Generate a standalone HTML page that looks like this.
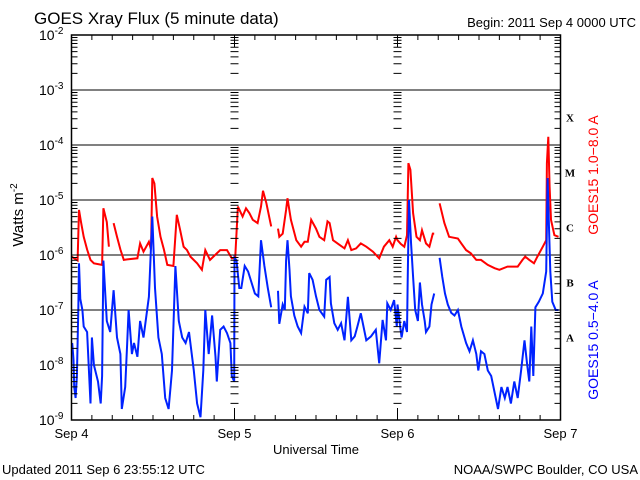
<!DOCTYPE html>
<html><head><meta charset="utf-8"><style>
html,body{margin:0;padding:0;background:#fff;}
svg{display:block;font-family:"Liberation Sans",sans-serif;}
</style></head><body>
<svg id="chart" width="640" height="480" viewBox="0 0 640 480" xmlns="http://www.w3.org/2000/svg">
<rect width="640" height="480" fill="#fff"/>
<text x="34" y="24" font-size="17" fill="#000">GOES Xray Flux (5 minute data)</text>
<text x="636" y="27" font-size="13" fill="#000" text-anchor="end">Begin:  2011 Sep 4 0000 UTC</text>
<text transform="translate(23,215) rotate(-90)" font-size="15" text-anchor="middle">Watts m<tspan font-size="10" dy="-6">-2</tspan></text>
<text x="316" y="454" font-size="13" text-anchor="middle">Universal Time</text>
<text x="2" y="474" font-size="13">Updated 2011 Sep  6 23:55:12 UTC</text>
<text x="638" y="474" font-size="13" text-anchor="end">NOAA/SWPC Boulder, CO USA</text>
<text transform="translate(598,175) rotate(-90)" font-size="14" fill="#ff0000" text-anchor="middle">GOES15 1.0−8.0 A</text>
<text transform="translate(598,340) rotate(-90)" font-size="14" fill="#0000ff" text-anchor="middle">GOES15 0.5−4.0 A</text>
<g id="grid"></g><g id="series"></g><g id="axes"></g>
</svg>
<script>
const yDecades=[-2,-3,-4,-5,-6,-7,-8,-9];
const dayLabels=["Sep 4","Sep 5","Sep 6","Sep 7"];
const classLabels=["X","M","C","B","A"];
const classLevels=[-3.5,-4.5,-5.5,-6.5,-7.5];
const redTimes=[0,0.9,1.1,1.4,1.8,2.3,2.8,3.3,4.5,4.7,5.2,5.5,null,6.2,6.7,7.2,7.7,8.2,9.7,10.1,10.6,11.4,11.7,11.9,12.2,12.6,13.1,13.6,14.1,15.0,15.5,16.0,16.5,17.0,17.5,18.5,19.2,19.7,20.4,20.9,21.9,22.9,23.6,24.1,24.5,25.2,25.7,26.2,26.7,27.4,27.9,28.2,28.7,29.2,29.4,null,30.4,30.6,31.1,31.6,31.8,32.3,33.1,33.8,34.3,34.8,35.3,36.0,36.5,37.2,37.7,38.0,38.5,39.5,40.2,40.7,41.2,41.9,42.6,43.4,44.4,45.3,46.0,46.8,47.3,47.8,48.0,48.5,49.0,49.4,49.6,49.9,50.3,50.8,51.3,51.6,52.2,52.7,53.2,53.4,null,54.2,54.9,55.6,56.9,57.4,58.1,58.8,59.6,60.3,61.3,62.3,63.0,64.2,65.7,66.4,66.8,67.4,68.1,68.6,69.4,69.9,70.0,70.2,70.4,70.6,71.1,71.7];
const redValues=[-6.03,-6.1,-5.18,-5.4,-5.67,-5.9,-6.09,-6.15,-6.18,-5.15,-5.4,-5.85,null,-5.42,-5.67,-5.9,-6.09,-6.08,-6.06,-5.79,-5.94,-5.76,-5.9,-4.6,-4.7,-5.3,-5.67,-5.9,-6.18,-6.2,-5.27,-5.55,-5.85,-5.91,-6.03,-6.15,-6.27,-5.91,-6.09,-6.03,-5.91,-5.91,-6.06,-6.05,-5.12,-5.3,-5.15,-5.24,-5.36,-5.42,-5.12,-4.83,-5.06,-5.36,-5.48,null,-5.52,-5.67,-5.61,-5.18,-4.97,-5.36,-5.73,-5.85,-5.76,-5.76,-5.36,-5.52,-5.67,-5.73,-5.39,-5.42,-5.73,-5.82,-5.88,-5.73,-5.91,-5.88,-5.79,-5.85,-5.94,-6.06,-5.85,-5.73,-5.85,-5.67,-5.73,-5.8,-5.85,-5.64,-4.33,-4.45,-5.24,-5.67,-5.73,-5.55,-5.79,-5.85,-5.61,-5.61,null,-5.06,-5.42,-5.67,-5.7,-5.79,-5.91,-5.97,-6.09,-6.09,-6.18,-6.24,-6.27,-6.21,-6.21,-6.09,-6.03,-6.09,-6.15,-6.03,-5.85,-5.73,-4.33,-3.85,-4.76,-5.36,-5.64,-5.67];
const blueTimes=[0.1,0.3,0.4,0.6,0.8,1.0,1.1,1.3,1.6,1.8,2.3,2.8,3.0,3.3,3.9,4.3,4.5,4.7,5.2,5.7,6.2,6.7,7.2,7.4,7.9,8.2,8.4,8.9,9.2,9.7,10.1,10.6,11.4,11.9,12.3,12.8,13.3,13.8,14.3,14.8,15.3,15.8,16.3,16.8,17.3,18.0,18.5,19.0,19.4,19.7,20.2,20.7,21.2,21.4,21.9,22.4,22.9,23.4,23.6,23.95,24.0,24.3,24.7,25.0,25.5,26.0,26.5,27.0,27.5,27.9,28.4,28.9,29.4,null,30.4,30.6,31.1,31.4,31.6,31.8,32.1,32.3,32.8,33.3,33.8,34.3,34.8,35.0,35.5,36.0,36.5,37.2,37.5,38.0,38.2,38.7,39.2,39.7,40.2,40.7,41.2,41.7,42.1,42.6,43.4,44.1,44.8,45.3,45.8,46.3,46.5,47.0,47.5,47.9,48.0,48.3,48.6,49.0,49.4,49.5,49.7,50.0,50.3,50.6,51.0,51.3,51.6,52.0,52.2,52.7,53.0,53.4,null,54.2,54.6,55.0,55.4,55.9,56.4,56.9,57.4,58.1,58.6,59.1,59.6,59.9,60.3,60.8,61.3,61.8,62.3,62.8,63.3,63.8,64.2,64.7,65.2,65.7,66.2,66.7,67.1,67.4,67.7,68.0,68.3,68.8,69.4,69.9,70.1,70.3,70.5,70.8,71.3,71.7];
const blueValues=[-7.6,-7.9,-8.4,-8.6,-8.2,-7.0,-6.15,-6.8,-7.0,-7.3,-7.4,-8.7,-7.5,-8.0,-8.3,-8.7,-8.2,-6.1,-7.2,-7.4,-6.64,-7.5,-7.8,-8.8,-8.4,-7.6,-7.0,-7.8,-7.6,-7.85,-7.2,-7.5,-6.76,-5.3,-6.6,-7.5,-7.8,-8.6,-8.8,-8.1,-6.2,-7.2,-7.5,-7.6,-7.4,-8.1,-8.7,-8.95,-8.1,-7.0,-7.8,-7.1,-7.85,-8.3,-7.36,-7.3,-7.42,-7.6,-8.2,-8.3,-6.05,-6.1,-6.6,-6.6,-6.2,-6.3,-6.5,-6.7,-6.75,-5.73,-6.2,-6.6,-6.95,null,-6.65,-7.25,-6.9,-7.0,-6.1,-5.73,-6.27,-6.75,-7.1,-7.3,-7.42,-6.94,-7.06,-6.33,-6.45,-6.75,-7.0,-7.12,-6.45,-6.4,-6.88,-7.24,-7.36,-7.24,-7.55,-6.76,-7.55,-7.48,-7.3,-7.06,-7.55,-7.48,-7.36,-7.97,-7.18,-7.55,-6.88,-7.0,-6.82,-7.3,-6.9,-7.2,-7.5,-7.2,-7.4,-6.45,-5.0,-5.8,-6.4,-7.0,-7.2,-6.5,-6.9,-7.2,-7.4,-7.3,-6.9,-6.7,null,-6.05,-6.4,-6.7,-6.9,-7.05,-7.1,-7.0,-7.3,-7.6,-7.75,-7.55,-7.8,-8.1,-7.75,-7.8,-8.1,-8.2,-8.5,-8.8,-8.4,-8.6,-8.4,-8.7,-8.3,-8.6,-8.1,-7.55,-8.0,-8.3,-7.3,-8.2,-6.95,-6.85,-6.7,-6.3,-4.6,-5.5,-6.3,-6.85,-7.0,-7.0];

const X0=71.5,X1=560.5,Y0=35,DEC=55;
function xScale(h){return X0+(X1-X0)*h/72;}
function yScale(l){return Y0+(-2-l)*DEC;}
const NS="http://www.w3.org/2000/svg";
function mk(tag,parent,attrs){const e=document.createElementNS(NS,tag);for(const k in attrs)e.setAttribute(k,attrs[k]);parent.appendChild(e);return e;}
const grid=document.getElementById('grid'),axes=document.getElementById('axes'),series=document.getElementById('series');
// gridlines and y labels
yDecades.forEach(d=>{
  const y=yScale(d);
  if(d!==-2&&d!==-9){const g=mk('line',grid,{x1:X0,x2:X1,y1:y,y2:y,stroke:'#000','stroke-width':1});
  
  }
  const t=mk('text',axes,{x:X0-8,y:y+5,'font-size':14,'text-anchor':'end'});
  
  
  t.innerHTML='10<tspan font-size="10" dy="-6">'+d+'</tspan>';
});
// minor ticks
let tk='';
for(let d=-3;d>=-9;d--){for(let m=2;m<=9;m++){const y=yScale(d)-Math.log10(m)*DEC;
  [[X0,6],[X1,-6],[xScale(24)-4,8],[xScale(48)-4,8]].forEach(([x,w])=>{tk+=`M${x} ${y.toFixed(1)}h${w}`;});}}
for(let d=-2;d>=-9;d--){const y=yScale(d);[[X0,9],[X1,-9],[xScale(24)-5,10],[xScale(48)-5,10]].forEach(([x,w])=>{tk+=`M${x} ${y}h${w}`;});}
for(let h=3;h<72;h+=3){const x=xScale(h);const l=(h%24===0)?12:5;tk+=`M${x} ${Y0}v${l}M${x} ${yScale(-9)}v${-l}`;}
const ticks=mk('path',axes,{d:tk,stroke:'#000','stroke-width':1,fill:'none'});


const frame=mk('rect',axes,{x:X0,y:Y0,width:X1-X0,height:yScale(-9)-Y0,fill:'none',stroke:'#000','stroke-width':1.5});


dayLabels.forEach((s,i)=>{const t=mk('text',axes,{x:xScale(i*24),y:438,'font-size':13,'text-anchor':'middle'});
  
  
  t.textContent=s;});
classLabels.forEach((s,i)=>{const t=mk('text',axes,{x:570,y:yScale(classLevels[i])+4,'font-size':11,'font-weight':'bold','font-family':'Liberation Serif, serif','text-anchor':'middle'});
  
  
  t.textContent=s;});
function drawSeries(times,vals,color,name){
  let d='',pen=false;
  for(let i=0;i<times.length;i++){
    if(times[i]===null||vals[i]===null){pen=false;continue;}
    d+=(pen?'L':'M')+xScale(times[i]).toFixed(1)+' '+yScale(vals[i]).toFixed(1);pen=true;}
  const p=mk('path',series,{d:d,stroke:color,'stroke-width':2,fill:'none','stroke-linejoin':'miter'});
  
  
}
drawSeries(redTimes,redValues,'#ff0000','series-long-1-8A');
drawSeries(blueTimes,blueValues,'#0022ff','series-short-0.5-4A');
</script>
</body></html>
